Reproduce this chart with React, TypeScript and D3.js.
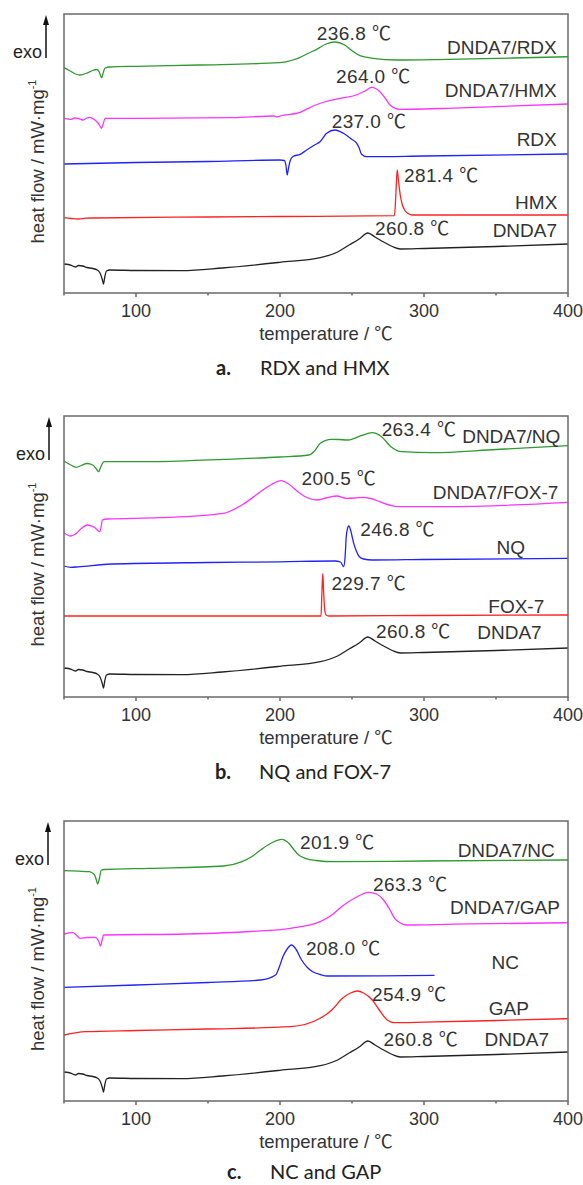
import React from 'react';
import * as d3 from 'd3';

type Pt = [number, number];

// temperature (°C) vs heat flow (a.u., curves offset for stacking)
const dnda7: Pt[] = [
  [50, 29], [53, 28.5], [56, 27], [58, 26], [60, 27.5], [63, 27], [66, 25.5], [70, 24.5],
  [73, 23], [75, 20], [76.5, 14], [77.4, 9], [78.3, 16], [79.5, 22], [82, 23], [100, 22.5],
  [132, 22.3], [160, 25], [200, 30.7], [228, 35.3], [240, 41], [248, 48], [255, 54],
  [261, 60], [266, 56], [272, 51], [278, 46.5], [283.5, 44], [300, 44.5], [350, 46.5], [400, 49],
];

const dnda7Rdx: Pt[] = [
  [50, 225.3], [54, 222.3], [58, 219], [61, 218], [64, 219], [66, 220], [70, 222.5], [72.7, 223.5],
  [74.5, 221], [75.5, 217], [76.2, 215.3], [77, 219], [78.5, 225], [82, 226], [100, 226.7],
  [144, 228], [200, 230.3], [209, 233], [214, 235.7], [220, 240], [225.5, 243.7], [232, 249],
  [238, 251], [245, 248], [250, 242.3], [255.5, 237.3], [264.6, 234.7], [281, 233], [316, 233.7],
  [362, 235], [400, 236.3],
];

const dnda7Hmx: Pt[] = [
  [50, 174.7], [53, 174], [55, 173.7], [57.5, 175], [59.7, 174.7], [63, 173], [66, 175], [68, 175.7],
  [71, 173.5], [73, 171], [75, 167], [76, 164.7], [77.2, 169], [78.5, 174.7], [100, 174.7],
  [167, 175.3], [196, 177], [198, 176], [200, 177], [214, 180.7], [223, 187], [232, 191.5],
  [241.7, 194.7], [253, 198], [259, 202], [263.7, 205.7], [269.4, 201.3], [273, 195], [276.4, 188],
  [283, 183.7], [300, 184], [316, 184.7], [400, 189],
];

const rdx: Pt[] = [
  [50, 129], [100, 130.5], [150, 131.5], [200, 133], [203, 132.5], [204.2, 127], [205, 118],
  [205.8, 124], [207, 132], [209, 136.5], [214, 138.7], [218.5, 143], [224, 148], [227.8, 151.3],
  [232.4, 159.7], [238.2, 163], [244, 159.7], [249.8, 153.7], [253.3, 149.7], [255, 145],
  [256.5, 139], [260.2, 136.3], [300, 137], [400, 139],
];

const hmx: Pt[] = [
  [50, 75.3], [55, 74.5], [60, 74], [65, 74.8], [70, 75], [150, 76], [200, 76.5], [279.5, 77.3],
  [280.5, 100], [281.4, 123], [282.3, 112], [283.5, 98], [285, 88], [287, 82], [289, 79.5],
  [292, 78], [300, 78], [400, 78],
];

const dnda7Nq: Pt[] = [
  [50, 236], [54.7, 232], [58.5, 229.7], [62, 231.5], [66, 233.5], [70, 232], [72.5, 228],
  [74.1, 225.3], [75.5, 230], [77.9, 235.3], [109, 235.3], [160.7, 237.7], [200, 240], [220, 242],
  [224, 246], [228, 253.7], [235.6, 257.7], [241, 257.5], [247.3, 257], [256.3, 261.3], [264, 264.3],
  [270.5, 260.3], [277, 250.3], [284.7, 245.3], [305.5, 244.3], [350, 247.5], [400, 251.3],
];

const dnda7Fox7: Pt[] = [
  [50, 164.3], [54.7, 161], [58, 163], [62, 168.5], [66.3, 172], [69, 171], [71.5, 169.3],
  [73.5, 166.5], [74.8, 165.3], [76, 172], [76.6, 177], [80, 178], [116.7, 179.3], [160.7, 183.7],
  [173.6, 192], [186.5, 205.3], [194, 212.5], [200.8, 216.3], [206, 213], [212.4, 205.3],
  [218, 200], [225.3, 197], [232, 199], [239.5, 201], [246, 198.7], [252, 199], [257.6, 199.7],
  [263, 198.5], [269.3, 195.3], [276, 192], [282.2, 190.3], [315.8, 190.3], [400, 194.7],
];

const nq: Pt[] = [
  [50, 131], [54.7, 129.7], [60, 130.2], [83, 133], [150, 134.5], [200, 135.2], [238.2, 136],
  [242, 135], [244.2, 130.3], [245.2, 140], [246, 160.3], [247, 169], [247.8, 171], [248.8, 168],
  [250, 161], [251.2, 153.7], [253, 146], [255.1, 140.3], [258, 138], [264.1, 137], [300, 137.5],
  [400, 138.7],
];

const fox7: Pt[] = [
  [50, 81], [100, 81], [200, 81], [228.5, 81], [229, 100], [229.7, 123.7], [230.3, 105],
  [231, 88], [232, 82], [234, 81], [300, 81.5], [400, 82],
];

const dnda7Nc: Pt[] = [
  [50, 230.3], [60, 229.8], [67.6, 229.3], [71, 226.5], [72.5, 221], [73.3, 217], [74.5, 222],
  [75.9, 231], [78, 231.5], [109, 232.7], [160.7, 235], [173.6, 239.3], [180, 244], [186.5, 251],
  [194, 258], [201.3, 261.7], [206, 258], [209.8, 251], [213, 246], [217.6, 242.7], [225, 240.5],
  [238.2, 239.3], [300, 240], [400, 241],
];

const dnda7Gap: Pt[] = [
  [50, 167], [56, 168.3], [58.5, 166], [61.1, 162.7], [66, 163.5], [71.5, 163.7], [74, 160],
  [75.4, 155], [76.5, 161], [77.4, 166], [134.8, 167], [180, 169.5], [207.2, 172.7], [227.9, 179.3],
  [236, 186], [243.4, 195], [252, 203], [261.5, 208.7], [267, 207], [271.9, 201], [276, 192],
  [279.6, 182.7], [283, 178.5], [287.4, 176], [320, 176.8], [400, 178.3],
];

const nc: Pt[] = [
  [50, 113.7], [100, 116], [150, 118.5], [186.5, 121], [196.9, 126], [199.5, 134], [202, 144.3],
  [205, 152], [208, 156], [211, 152], [215, 141], [219, 133.5], [222.7, 129.3], [228, 126.5],
  [233.1, 125], [270, 125.2], [307.3, 125.7],
];

const gap: Pt[] = [
  [50, 66], [65, 69.3], [100, 70.5], [150, 72], [207.2, 74.3], [227.9, 82.7], [236, 91],
  [243.4, 102.7], [249, 108], [253.8, 110], [258, 108], [264.1, 101], [269, 91], [274.5, 81],
  [279.6, 78.3], [300, 78.8], [350, 80.5], [400, 82.3],
];

const xTicks = [100, 200, 300, 400];
const xMinorTicks = [50, 150, 250, 350];

const GREEN = '#2f9a2f';
const PINK = '#ff33ff';
const BLUE = '#2222ff';
const RED = '#ff2222';
const BLACK = '#222222';

type Label = { text: string; t: number; v: number; anchor: 'start' | 'end' };
type PanelDef = {
  top: number;
  bottom: number;
  arrowX: number;
  series: { data: Pt[]; color: string }[];
  labels: Label[];
  letter: string;
  caption: string;
  letterX: number;
  captionX: number;
};

const panels: PanelDef[] = [
  {
    top: 14, bottom: 293, arrowX: 46,
    series: [
      { data: dnda7Rdx, color: GREEN },
      { data: dnda7Hmx, color: PINK },
      { data: rdx, color: BLUE },
      { data: hmx, color: RED },
      { data: dnda7, color: BLACK },
    ],
    labels: [
      { text: '236.8 ℃', t: 225.5, v: 260.3, anchor: 'start' },
      { text: 'DNDA7/RDX', t: 392.2, v: 246.3, anchor: 'end' },
      { text: '264.0 ℃', t: 238.9, v: 217, anchor: 'start' },
      { text: 'DNDA7/HMX', t: 392.2, v: 203, anchor: 'end' },
      { text: '237.0 ℃', t: 235.9, v: 172.3, anchor: 'start' },
      { text: 'RDX', t: 392.2, v: 154, anchor: 'end' },
      { text: '281.4 ℃', t: 286.1, v: 118, anchor: 'start' },
      { text: 'HMX', t: 392.6, v: 91.3, anchor: 'end' },
      { text: '260.8 ℃', t: 266, v: 64.7, anchor: 'start' },
      { text: 'DNDA7', t: 392.4, v: 63, anchor: 'end' },
    ],
    letter: 'a.', caption: 'RDX and HMX', letterX: 216, captionX: 260,
  },
  {
    top: 416, bottom: 697, arrowX: 49,
    series: [
      { data: dnda7Nq, color: GREEN },
      { data: dnda7Fox7, color: PINK },
      { data: nq, color: BLUE },
      { data: fox7, color: RED },
      { data: dnda7, color: BLACK },
    ],
    labels: [
      { text: '263.4 ℃', t: 270.6, v: 267.7, anchor: 'start' },
      { text: 'DNDA7/NQ', t: 394.7, v: 261, anchor: 'end' },
      { text: '200.5 ℃', t: 215, v: 218.7, anchor: 'start' },
      { text: 'DNDA7/FOX-7', t: 393.3, v: 205.3, anchor: 'end' },
      { text: '246.8 ℃', t: 255.8, v: 167.7, anchor: 'start' },
      { text: 'NQ', t: 370.1, v: 150.3, anchor: 'end' },
      { text: '229.7 ℃', t: 235.7, v: 114.3, anchor: 'start' },
      { text: 'FOX-7', t: 383.5, v: 91, anchor: 'end' },
      { text: '260.8 ℃', t: 266.7, v: 66.3, anchor: 'start' },
      { text: 'DNDA7', t: 381.7, v: 65.3, anchor: 'end' },
    ],
    letter: 'b.', caption: 'NQ and FOX-7', letterX: 215, captionX: 259,
  },
  {
    top: 821, bottom: 1101, arrowX: 48,
    series: [
      { data: dnda7Nc, color: GREEN },
      { data: dnda7Gap, color: PINK },
      { data: nc, color: BLUE },
      { data: gap, color: RED },
      { data: dnda7, color: BLACK },
    ],
    labels: [
      { text: '201.9 ℃', t: 213.9, v: 259.3, anchor: 'start' },
      { text: 'DNDA7/NC', t: 390.8, v: 251, anchor: 'end' },
      { text: '263.3 ℃', t: 264.6, v: 217, anchor: 'start' },
      { text: 'DNDA7/GAP', t: 394.4, v: 194.3, anchor: 'end' },
      { text: '208.0 ℃', t: 218, v: 153.3, anchor: 'start' },
      { text: 'NC', t: 366, v: 139.3, anchor: 'end' },
      { text: '254.9 ℃', t: 263.9, v: 107, anchor: 'start' },
      { text: 'GAP', t: 372.9, v: 93, anchor: 'end' },
      { text: '260.8 ℃', t: 271.9, v: 62, anchor: 'start' },
      { text: 'DNDA7', t: 386.8, v: 62, anchor: 'end' },
    ],
    letter: 'c.', caption: 'NC and GAP', letterX: 227, captionX: 270,
  },
];

const SANS = '"Liberation Sans", Arial, sans-serif';
const CJK = '"Noto Sans CJK SC", sans-serif';
const CAPTION_FONT = 'Lato, "Open Sans", sans-serif';

// draws the ℃ sign with a CJK face so it reads as one compact glyph
const withDegree = (s: string) => {
  const parts = s.split('℃');
  if (parts.length === 1) return s;
  return (
    <>
      {parts[0]}
      <tspan fontFamily={CJK} letterSpacing={0}>℃</tspan>
      {parts[1]}
    </>
  );
};

const Panel: React.FC<{ p: PanelDef }> = ({ p }) => {
  const x = d3.scaleLinear().domain([50, 400]).range([64, 568]);
  const y = d3.scaleLinear().domain([0, p.bottom - p.top]).range([p.bottom, p.top]);
  const line = d3
    .line<Pt>()
    .x((d) => x(d[0]))
    .y((d) => y(d[1]))
    .curve(d3.curveMonotoneX);
  const midY = (p.top + p.bottom) / 2 + 8;
  const capY = Math.min(p.bottom + 82, 1179);

  return (
    <g>
      {p.series.map((s, i) => (
        <path key={i} d={line(s.data) || ''} fill="none" stroke={s.color} strokeWidth={1.3} />
      ))}
      <rect
        x={x(50)}
        y={p.top}
        width={x(400) - x(50)}
        height={p.bottom - p.top}
        fill="none"
        stroke="#6a6a6a"
        strokeWidth={1.5}
      />
      {xTicks.map((t) => (
        <g key={t}>
          <line x1={x(t)} x2={x(t)} y1={p.bottom} y2={p.bottom + 4} stroke="#6a6a6a" strokeWidth={1.5} />
          <text x={x(t)} y={p.bottom + 23.5} textAnchor="middle" fontFamily={SANS} fontSize={18} fill="#333">
            {t}
          </text>
        </g>
      ))}
      {xMinorTicks.map((t) => (
        <line key={t} x1={x(t)} x2={x(t)} y1={p.bottom} y2={p.bottom + 2.5} stroke="#6a6a6a" strokeWidth={1.5} />
      ))}
      <text x={326} y={p.bottom + 46.5} textAnchor="middle" fontFamily={SANS} fontSize={18.5} fill="#333">
        {withDegree('temperature / ℃')}
      </text>
      <text
        transform={`translate(44,${midY}) rotate(-90)`}
        textAnchor="middle"
        fontFamily={SANS}
        fontSize={18.5}
        fill="#333"
      >
        heat flow / mW·mg
        <tspan fontSize={11} dy={-8}>-1</tspan>
      </text>
      <text x={p.arrowX - 4} y={p.top + 44} textAnchor="end" fontFamily={SANS} fontSize={18} fill="#222">
        exo
      </text>
      <line x1={p.arrowX} x2={p.arrowX} y1={p.top + 44} y2={p.top + 8} stroke="#111" strokeWidth={1.5} />
      <path
        d={`M${p.arrowX},${p.top + 1} L${p.arrowX - 3},${p.top + 11} L${p.arrowX + 3},${p.top + 11} Z`}
        fill="#111"
      />
      {p.labels.map((l, i) => (
        <text
          key={i}
          x={x(l.t)}
          y={y(l.v) + 6.8}
          textAnchor={l.anchor}
          fontFamily={SANS}
          fontSize={19}
          letterSpacing={l.anchor === 'start' ? 0.4 : 0}
          fill="#333"
        >
          {withDegree(l.text)}
        </text>
      ))}
      <text x={p.letterX} y={capY} fontFamily={CAPTION_FONT} fontWeight="bold" fontSize={20} fill="#222">
        {p.letter}
      </text>
      <text x={p.captionX} y={capY} fontFamily={CAPTION_FONT} fontSize={20} fill="#222">
        {p.caption}
      </text>
    </g>
  );
};

export default function App() {
  return (
    <svg
      width={583}
      height={1185}
      style={{ position: 'absolute', left: 0, top: 0, background: '#fff' }}
    >
      {panels.map((p, i) => (
        <Panel key={i} p={p} />
      ))}
    </svg>
  );
}
